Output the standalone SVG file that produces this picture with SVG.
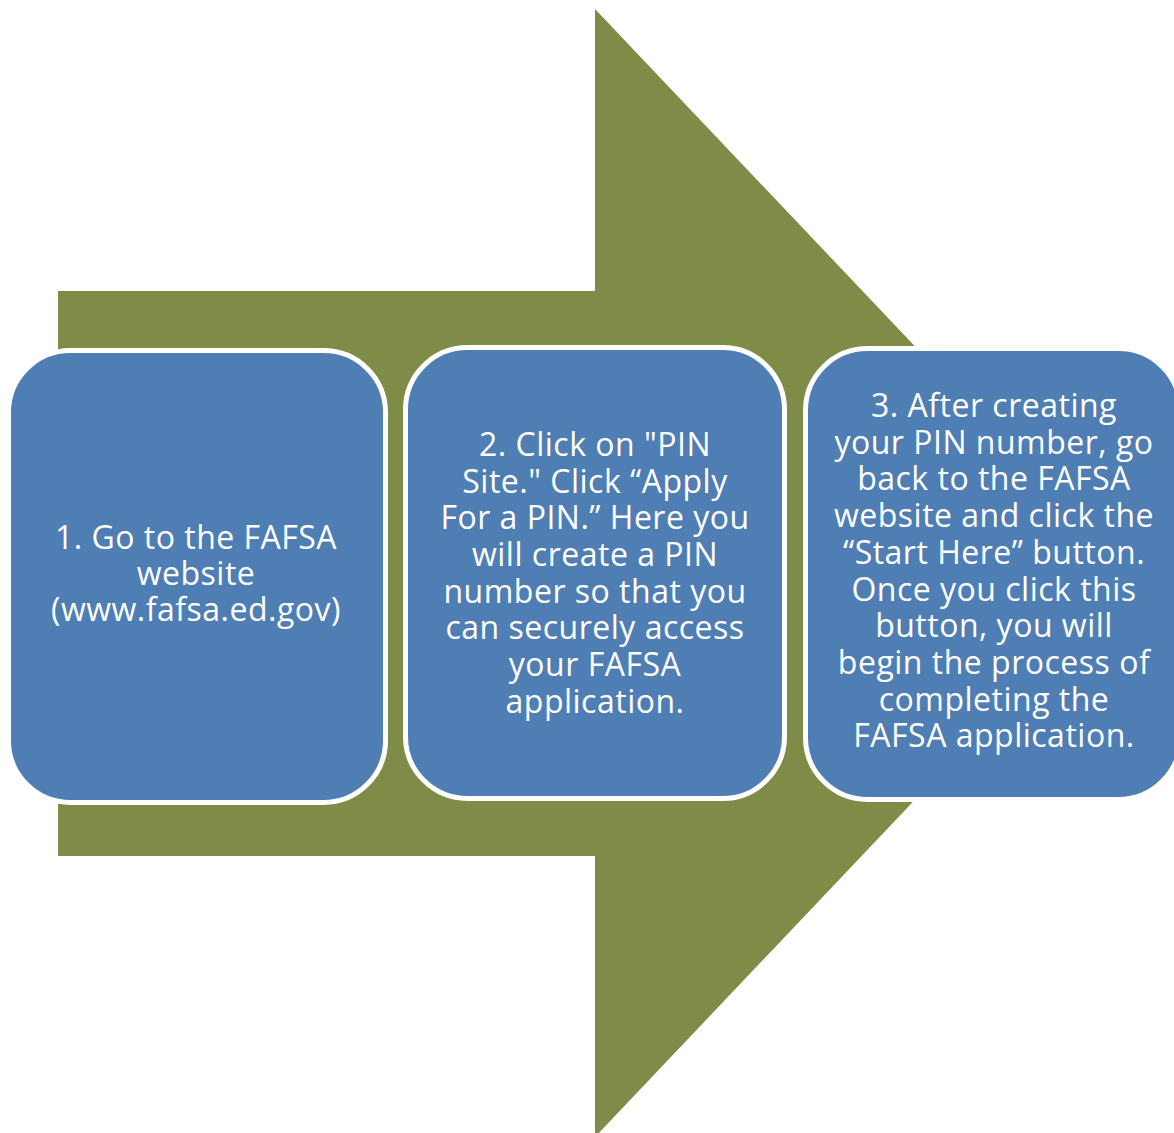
<svg xmlns="http://www.w3.org/2000/svg" width="1174" height="1133" viewBox="0 0 1174 1133">
<style>
.box{fill:#4F7EB4;stroke:#FFFFFF;stroke-width:5}
.t{font-family:"Open Sans","Noto Sans","DejaVu Sans",sans-serif;font-size:32px;letter-spacing:0.5px;fill:#FFFFFF;text-anchor:middle}
</style>
<rect width="1174" height="1133" fill="#FFFFFF"/>
<g id="connectors">
<polygon id="arrow" points="58,291 595,291 595,9 1130,573 595,1137 595,856 58,856" fill="#7E8C48"/>
</g>
<g id="node1">
<rect class="box" x="8.5" y="350.5" width="377" height="452" rx="62" ry="62"/>
<text class="t"><tspan x="196" y="549">1. Go to the FAFSA</tspan><tspan x="196" y="585">website</tspan><tspan x="196" y="621">(www.fafsa.ed.gov)</tspan></text>
</g>
<g id="node2">
<rect class="box" x="405.5" y="347.5" width="379" height="451" rx="62" ry="62"/>
<text class="t"><tspan x="595" y="456">2. Click on "PIN</tspan><tspan x="595" y="493">Site." Click “Apply</tspan><tspan x="595" y="529">For a PIN.” Here you</tspan><tspan x="595" y="566">will create a PIN</tspan><tspan x="595" y="603">number so that you</tspan><tspan x="595" y="639">can securely access</tspan><tspan x="595" y="676">your FAFSA</tspan><tspan x="595" y="713">application.</tspan></text>
</g>
<g id="node3">
<rect class="box" x="805.5" y="348.5" width="375" height="451" rx="62" ry="62"/>
<text class="t"><tspan x="994" y="417">3. After creating</tspan><tspan x="994" y="454">your PIN number, go</tspan><tspan x="994" y="490">back to the FAFSA</tspan><tspan x="994" y="527">website and click the</tspan><tspan x="994" y="564">“Start Here” button.</tspan><tspan x="994" y="601">Once you click this</tspan><tspan x="994" y="637">button, you will</tspan><tspan x="994" y="674">begin the process of</tspan><tspan x="994" y="711">completing the</tspan><tspan x="994" y="747">FAFSA application.</tspan></text>
</g>
</svg>
